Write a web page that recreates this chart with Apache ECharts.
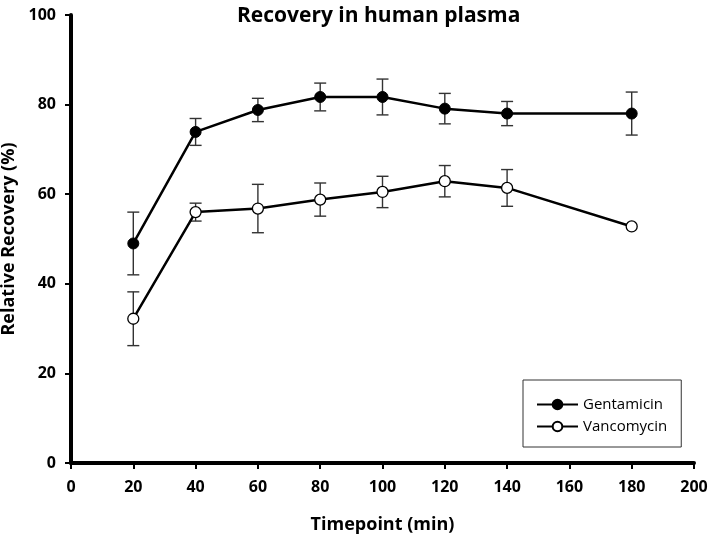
<!DOCTYPE html>
<html>
<head>
<meta charset="utf-8">
<script src="https://cdn.jsdelivr.net/npm/echarts@6/dist/echarts.min.js"></script>
<style>html,body{margin:0;padding:0;background:#fff}#c{width:709px;height:541px}</style>
</head>
<body>
<div id="c"></div>
<script>
const timepoints = [20, 40, 60, 80, 100, 120, 140, 180];
const gentamicin = [49.0, 73.9, 78.8, 81.7, 81.7, 79.1, 78.0, 78.0];
const gentamicinErr = [7.0, 3.0, 2.6, 3.1, 4.0, 3.4, 2.7, 4.8];
const vancomycin = [32.2, 56.0, 56.8, 58.8, 60.5, 62.9, 61.4, 52.8];
const vancomycinErr = [6.0, 2.0, 5.4, 3.7, 3.5, 3.5, 4.1, 0];
const xTicks = [0, 20, 40, 60, 80, 100, 120, 140, 160, 180, 200];
const yTicks = [0, 20, 40, 60, 80, 100];

const FONT = 'Open Sans';
function pts(vals){ return timepoints.map((t,i)=>[t, vals[i]]); }
function errs(vals, e){ return timepoints.map((t,i)=>[t, vals[i]-e[i], vals[i]+e[i]]).filter((d,i)=>e[i]>0); }
function errRender(params, api){
  const x = api.value(0), lo = api.value(1), hi = api.value(2);
  const pLo = api.coord([x, lo]), pHi = api.coord([x, hi]);
  const w = 6;
  const style = {stroke:'#333', lineWidth:1.4, fill:null};
  return {type:'group', children:[
    {type:'line', shape:{x1:pLo[0], y1:pLo[1], x2:pHi[0], y2:pHi[1]}, style},
    {type:'line', shape:{x1:pLo[0]-w, y1:pLo[1], x2:pLo[0]+w, y2:pLo[1]}, style},
    {type:'line', shape:{x1:pHi[0]-w, y1:pHi[1], x2:pHi[0]+w, y2:pHi[1]}, style}
  ]};
}
const chart = echarts.init(document.getElementById('c'));
chart.setOption({
  animation:false,
  backgroundColor:'#fff',
  title:{text:'Recovery in human plasma', left:232, top:1,
    textStyle:{fontFamily:FONT, fontWeight:'bold', fontSize:21, color:'#000'}},
  grid:{left:71, right:15, top:15, bottom:78, outerBoundsMode:'none', containLabel:false},
  legend:{
    orient:'vertical', left:523, top:380,
    backgroundColor:'#fff', borderColor:'#333', borderWidth:1,
    padding:[17,14,13,13], itemGap:7, itemWidth:41, itemHeight:12,
    textStyle:{fontFamily:FONT, fontSize:15, color:'#000'},
    data:['Gentamicin','Vancomycin']
  },
  xAxis:{type:'value', min:0, max:200, interval:20,
    name:'Timepoint (min)', nameLocation:'middle', nameGap:53,
    nameTextStyle:{fontFamily:FONT, fontWeight:'bold', fontSize:18, color:'#000'},
    axisLine:{lineStyle:{color:'#000', width:4}},
    axisTick:{length:6, lineStyle:{color:'#000', width:2}},
    axisLabel:{fontFamily:FONT, fontWeight:'bold', fontSize:16, color:'#000', margin:16,
      customValues:xTicks},
    splitLine:{show:false}},
  yAxis:{type:'value', min:0, max:100, interval:20,
    name:'Relative Recovery (%)', nameLocation:'middle', nameGap:47,
    nameTextStyle:{fontFamily:FONT, fontWeight:'bold', fontSize:18, color:'#000'},
    axisLine:{show:true, lineStyle:{color:'#000', width:4}},
    axisTick:{show:true, length:6, lineStyle:{color:'#000', width:2}},
    axisLabel:{fontFamily:FONT, fontWeight:'bold', fontSize:16, color:'#000', margin:15,
      customValues:yTicks},
    splitLine:{show:false}},
  series:[
    {type:'custom', name:'gErr', renderItem:errRender, data:errs(gentamicin, gentamicinErr), z:1, silent:true, encode:{x:0, y:[1,2]}},
    {type:'custom', name:'vErr', renderItem:errRender, data:errs(vancomycin, vancomycinErr), z:1, silent:true, encode:{x:0, y:[1,2]}},
    {type:'line', name:'Gentamicin', data:pts(gentamicin), z:3, symbol:'circle', symbolSize:11,
      lineStyle:{color:'#000', width:2.5}, itemStyle:{color:'#000', borderColor:'#000', borderWidth:1}},
    {type:'line', name:'Vancomycin', data:pts(vancomycin), z:3, symbol:'circle', symbolSize:11,
      lineStyle:{color:'#000', width:2.5}, itemStyle:{color:'#fff', borderColor:'#000', borderWidth:1.3}}
  ]
});
</script>
</body>
</html>
